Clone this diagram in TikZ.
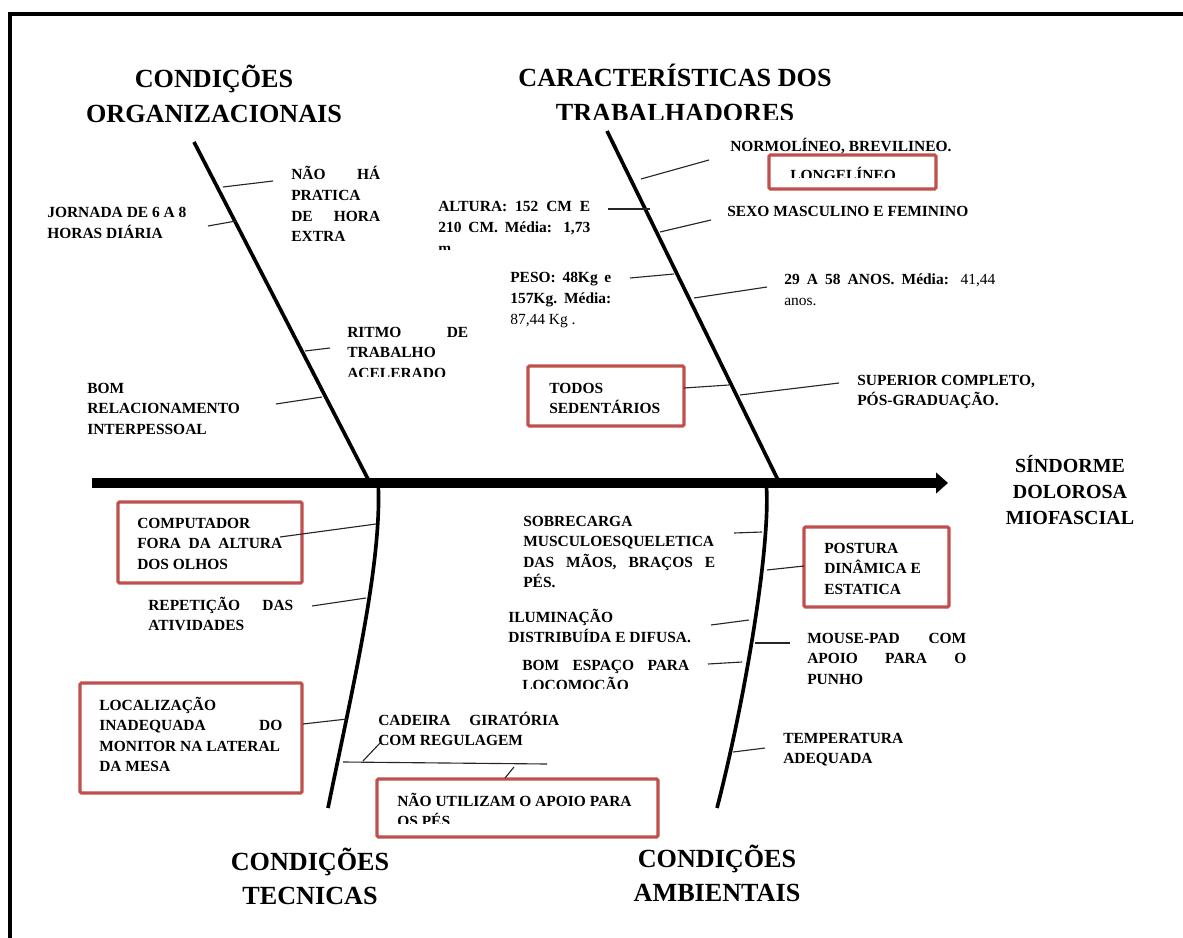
\documentclass[tikz,border=0pt]{standalone}
\usepackage{fontspec}
\setmainfont{Liberation Serif}
\usetikzlibrary{arrows.meta}
\definecolor{boxred}{RGB}{192,80,77}
\newcommand\jl[2]{\makebox[#1][s]{#2}}
\newcommand\lstack[1]{\vtop{\halign{##\hfil\cr#1\crcr}}}
\newcommand\cstack[1]{\vtop{\halign{\hfil##\hfil\cr#1\crcr}}}

\begin{document}
\begin{tikzpicture}[x=0.025cm, y=-0.025cm,
	lbl/.style={anchor=base west, inner sep=0pt, font=\fontsize{11}{14.6}\selectfont\bfseries},
	ttl/.style={anchor=base, inner sep=0pt, font=\fontsize{18.6}{24.6}\selectfont\bfseries},
	redbox/.style={draw=boxred, line width=2.2pt, fill=white, rounded corners=1pt},
	bone/.style={line width=2.6pt},
	twig/.style={line width=0.8pt, black!85}]
	%%%%% START %%%%%
	
	\useasboundingbox (0, 0) rectangle (1183, 938);
	\draw[line width=2.8pt] (1183, 14) -- (10, 14) -- (10, 938);
	
	% spine and bones
	\draw[line width=7.1pt, -{Triangle[length=8.5pt, width=14.5pt]}] (92, 483) -- (948, 483);
	\draw[bone] (194, 142) -- (369, 481);
	\draw[bone] (607, 131) -- (778, 480);
	\draw[bone] (378, 481) .. controls (383, 560) and (352, 690) .. (328, 808);
	\draw[bone] (766, 481) .. controls (772, 540) and (745, 700) .. (717, 808);
	
	% boxes
	\draw[redbox] (769, 155) rectangle (936, 189);
	\draw[redbox] (528, 366) rectangle (684, 426);
	\draw[redbox] (118, 502) rectangle (302, 583);
	\draw[redbox] (80, 683) rectangle (302, 793);
	\draw[redbox] (377, 779) rectangle (658, 837);
	\draw[redbox] (804, 527) rectangle (949, 607);
	
	% titles
	\node[ttl] (org) at (214, 88) {\cstack{CONDIÇÕES\cr ORGANIZACIONAIS}};
	\begin{scope}
		\clip (400, 40) rectangle (950, 120);
		\node[ttl] (car) at (675, 87) {\cstack{CARACTERÍSTICAS DOS\cr TRABALHADORES}};
	\end{scope}
	\node[ttl] (tec) at (310, 870) {\cstack{CONDIÇÕES\cr TECNICAS}};
	\node[ttl] (amb) at (717, 867) {\cstack{CONDIÇÕES\cr AMBIENTAIS}};
	\node[ttl, font=\fontsize{14.2}{18.5}\selectfont\bfseries] (sin) at (1070, 472) {\cstack{SÍNDORME\cr DOLOROSA\cr MIOFASCIAL}};
	
	% organizacionais
	\node[lbl] (nao) at (291, 180) {\lstack{\jl{2.225cm}{NÃO HÁ}\cr PRATICA\cr \jl{2.225cm}{DE HORA}\cr EXTRA}};
	\node[lbl] (jor) at (47, 218) {\lstack{JORNADA DE 6 A 8\cr HORAS DIÁRIA}};
	\begin{scope}
		\clip (340, 300) rectangle (480, 376);
		\node[lbl] (rit) at (347, 337) {\lstack{\jl{3.025cm}{RITMO DE}\cr TRABALHO\cr ACELERADO}};
	\end{scope}
	\node[lbl] (bom) at (87, 393) {\lstack{BOM\cr RELACIONAMENTO\cr INTERPESSOAL}};
	
	% trabalhadores
	\node[lbl] (nor) at (730, 152) {NORMOLÍNEO, BREVILINEO.};
	\begin{scope}
		\clip (775, 160) rectangle (930, 178);
		\node[lbl] (lon) at (790, 180.5) {LONGELÍNEO};
	\end{scope}
	\begin{scope}
		\clip (430, 190) rectangle (600, 250);
		\node[lbl] (alt) at (438, 212) {\lstack{\jl{3.8cm}{ALTURA: 152 CM E}\cr \jl{3.8cm}{210 CM. Média: 1,73}\cr m}};
	\end{scope}
	\node[lbl] (sex) at (727, 217) {SEXO MASCULINO E FEMININO};
	\node[lbl] (pes) at (510, 283) {\lstack{\jl{2.525cm}{PESO: 48Kg e}\cr \jl{2.525cm}{157Kg. Média:}\cr {\mdseries 87,44 Kg .}}};
	\node[lbl] (ida) at (784, 285) {\lstack{\jl{5.275cm}{29 A 58 ANOS. Média: {\mdseries 41,44}}\cr {\mdseries anos.}}};
	\node[lbl] (tod) at (549, 393) {\lstack{TODOS\cr SEDENTÁRIOS}};
	\node[lbl] (sup) at (857, 385) {\lstack{SUPERIOR COMPLETO,\cr PÓS-GRADUAÇÃO.}};
	
	% tecnicas
	\node[lbl] (com) at (137, 528) {\lstack{COMPUTADOR\cr \jl{3.625cm}{FORA DA ALTURA}\cr DOS OLHOS}};
	\node[lbl] (rep) at (148, 610) {\lstack{\jl{3.625cm}{REPETIÇÃO DAS}\cr ATIVIDADES}};
	\node[lbl] (loc) at (99, 710) {\lstack{LOCALIZAÇÃO\cr \jl{4.575cm}{INADEQUADA DO}\cr MONITOR NA LATERAL\cr DA MESA}};
	\node[lbl] (cad) at (378, 725) {\lstack{\jl{4.525cm}{CADEIRA GIRATÓRIA}\cr COM REGULAGEM}};
	\begin{scope}
		\clip (380, 782) rectangle (655, 823);
		\node[lbl] (nut) at (397, 806) {\lstack{NÃO UTILIZAM O APOIO PARA\cr OS PÉS}};
	\end{scope}
	
	% ambientais
	\node[lbl] (sob) at (523, 526) {\lstack{SOBRECARGA\cr MUSCULOESQUELETICA\cr \jl{4.8cm}{DAS MÃOS, BRAÇOS E}\cr PÉS.}};
	\node[lbl] (pos) at (824, 553) {\lstack{POSTURA\cr DINÂMICA E\cr ESTATICA}};
	\node[lbl] (ilu) at (508, 622) {\lstack{ILUMINAÇÃO\cr DISTRIBUÍDA E DIFUSA.}};
	\begin{scope}
		\clip (800, 625) rectangle (975, 684);
		\node[lbl] (mou) at (807, 643) {\lstack{\jl{3.975cm}{MOUSE-PAD COM}\cr \jl{3.975cm}{APOIO PARA O}\cr PUNHO}};
	\end{scope}
	\begin{scope}
		\clip (515, 650) rectangle (700, 688);
		\node[lbl] (esp) at (522, 670) {\lstack{\jl{4.175cm}{BOM ESPAÇO PARA}\cr LOCOMOÇÃO}};
	\end{scope}
	\node[lbl] (tem) at (783, 743) {\lstack{TEMPERATURA\cr ADEQUADA}};
	
	% twigs
	\foreach \n/\xa/\ya/\xb/\yb in {
		nao/223/187/273/181, jor/208/226/236/221, rit/305/351/330/348, bom/276/404/322/397,
		nor/641/179/709/160, alt/608/209/650/209, sex/660/232/711/220, pes/630/278/674/274,
		ida/694/298/767/287, tod/684/388/729/385, sup/740/395/839/383,
		com/280/537/376/524, rep/312/606/366/598, loc/303/724/347/719,
		cad/363/761/380/743, flr/343/762/547/764, nut/505/778/514/767,
		sob/734/533/762/532, pos/767/570/804/566, ilu/711/625/749/620,
		mou/755/643/790/643, esp/708/664/742/662, tem/733/752/765/748}{
		\coordinate (\n-a) at (\xa, \ya);
		\coordinate (\n-b) at (\xb, \yb);
		\draw[twig] (\n-a) -- (\n-b);
	}
	
	%%%%% END %%%%%
\end{tikzpicture}
\end{document}
